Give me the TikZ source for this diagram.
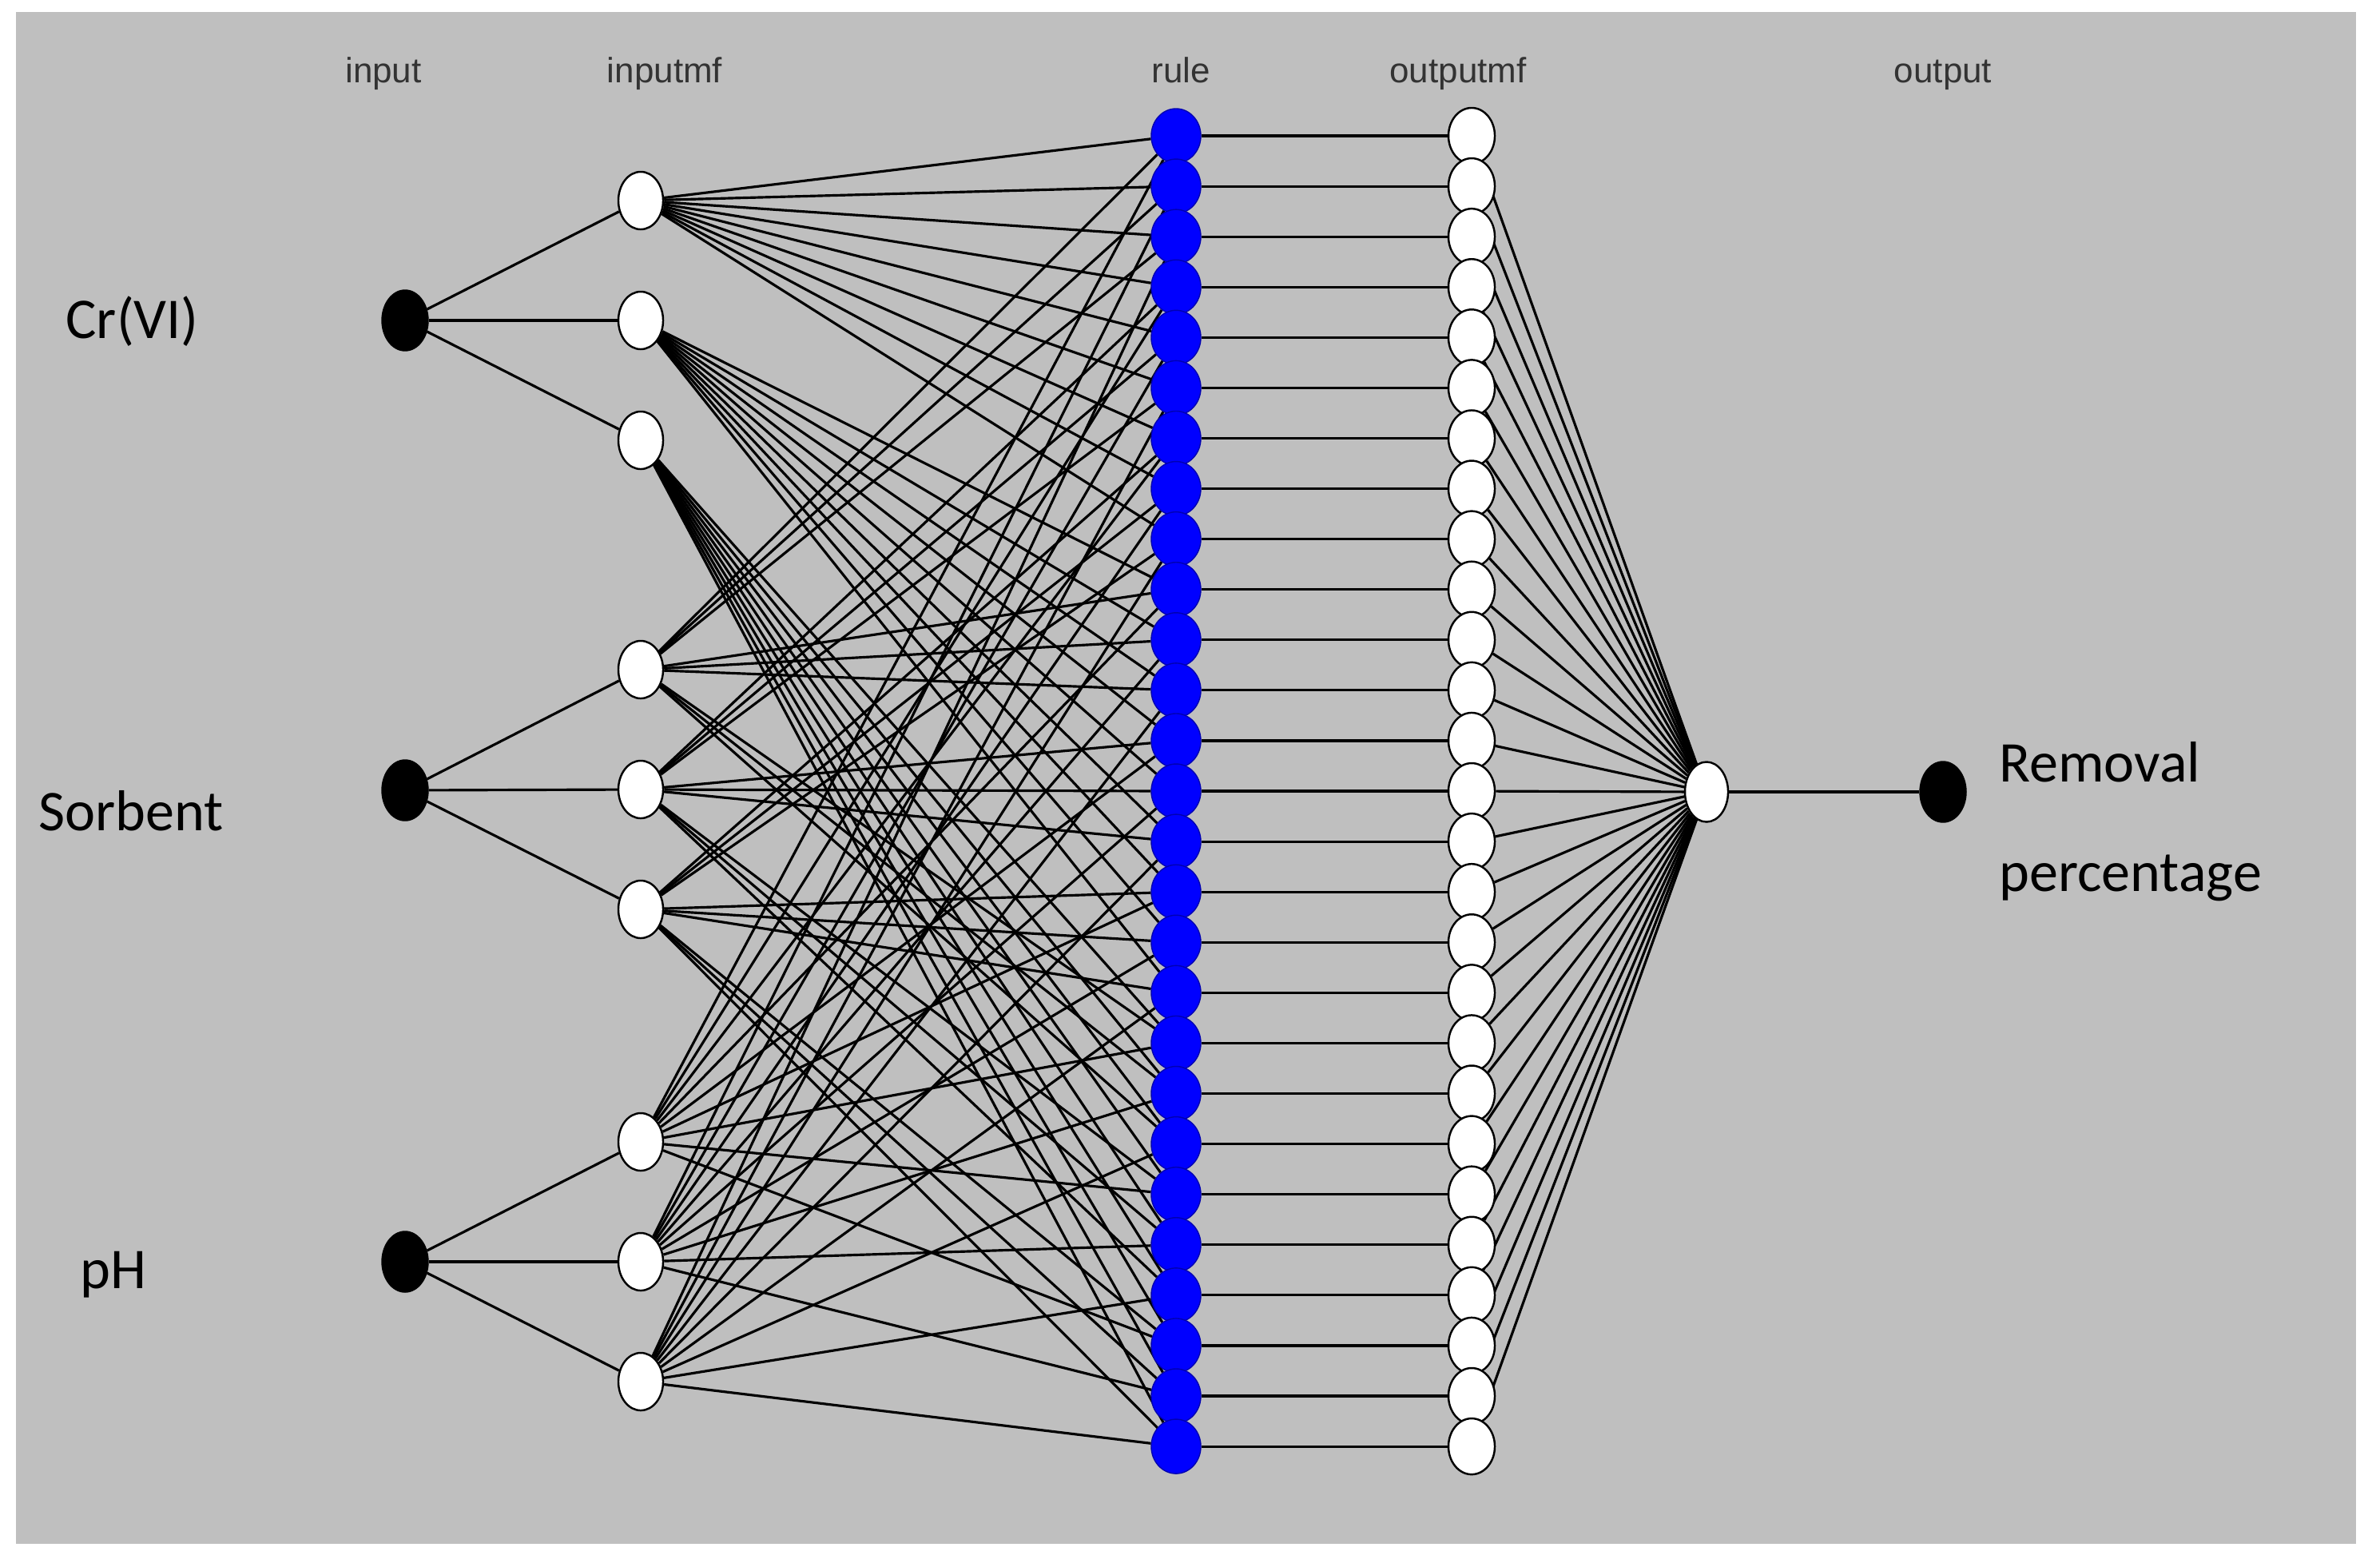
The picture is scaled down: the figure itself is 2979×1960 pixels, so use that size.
\documentclass[tikz,border=0pt]{standalone}
\usepackage{fontspec}
\setmainfont{Carlito}
\newfontfamily\guifont{Liberation Sans}
\usetikzlibrary{shapes.geometric}
\pgfdeclarelayer{bg}
\pgfsetlayers{bg,main}

\begin{document}
\begin{tikzpicture}[
  x=0.01cm, y=-0.01cm,
  link/.style={draw=black, line width=0.9pt},
  invar/.style={ellipse, fill=black, draw=black, minimum width=0.58cm, minimum height=0.76cm, inner sep=0pt},
  mfnode/.style={ellipse, fill=white, draw=black, line width=0.7pt, minimum width=0.56cm, minimum height=0.72cm, inner sep=0pt},
  rulenode/.style={ellipse, fill=blue, draw=blue!70!black, line width=0.4pt, minimum width=0.62cm, minimum height=0.68cm, inner sep=0pt},
  outmf/.style={mfnode, minimum width=0.58cm, minimum height=0.70cm},
  layertitle/.style={font=\guifont\fontsize{12.5}{14}\selectfont, text=black!80, anchor=base},
  varlabel/.style={font=\fontsize{20.5}{24}\selectfont, anchor=base west}
]
  \useasboundingbox (0,0) rectangle (2979,1960);

  % layer titles
  \node[layertitle] (tin) at (480,103) {input};
  \node[layertitle] (tmf) at (832,103) {inputmf};
  \node[layertitle] (trule) at (1478,103) {rule};
  \node[layertitle] (tomf) at (1825,103) {outputmf};
  \node[layertitle] (tout) at (2432,103) {output};

  % inputs and their membership functions
  \node[invar] (in1) at (507,401) {};
  \node[invar] (in2) at (507,989) {};
  \node[invar] (in3) at (507,1579) {};
  \foreach \m/\ya/\yb/\yc in {1/251/838/1429, 2/401/988/1579, 3/551/1138/1729} {
    \node[mfnode] (a\m) at (802,\ya) {};
    \node[mfnode] (b\m) at (802,\yb) {};
    \node[mfnode] (c\m) at (802,\yc) {};
  }

  % rules and output membership functions
  \foreach \k in {0,...,26} {
    \pgfmathsetmacro{\ry}{170+63.08*\k}
    \node[rulenode] (r\k) at (1472,\ry) {};
    \node[outmf] (o\k) at (1842,\ry) {};
  }
  \node[mfnode, minimum width=0.54cm, minimum height=0.75cm] (agg) at (2136,991) {};
  \node[invar] (out) at (2432,991) {};

  \begin{pgfonlayer}{bg}
    \fill[white] (0,0) rectangle (2979,1960);
    \fill[black!25] (20,15) rectangle (2949,1932);
    \foreach \m in {1,2,3} {
      \draw[link] (in1) -- (a\m);
      \draw[link] (in2) -- (b\m);
      \draw[link] (in3) -- (c\m);
    }
    \foreach \k in {0,...,26} {
      \pgfmathtruncatemacro{\ia}{int(\k/9)+1}
      \pgfmathtruncatemacro{\ib}{mod(int(\k/3),3)+1}
      \pgfmathtruncatemacro{\ic}{mod(\k,3)+1}
      \draw[link] (a\ia) -- (r\k);
      \draw[link] (b\ib) -- (r\k);
      \draw[link] (c\ic) -- (r\k);
      \draw[link] (r\k) -- (o\k);
      \draw[link] (o\k) -- (agg);
    }
    \draw[link] (agg) -- (out);
  \end{pgfonlayer}

  % variable names
  \node[varlabel] (lcr) at (70,423) {Cr(VI)};
  \node[varlabel] (lsorb) at (36,1039) {Sorbent};
  \node[varlabel] (lph) at (88,1612) {pH};
  \node[varlabel] (lrem) at (2490,978) {Removal};
  \node[varlabel] (lpct) at (2490,1115) {percentage};
\end{tikzpicture}
\end{document}
